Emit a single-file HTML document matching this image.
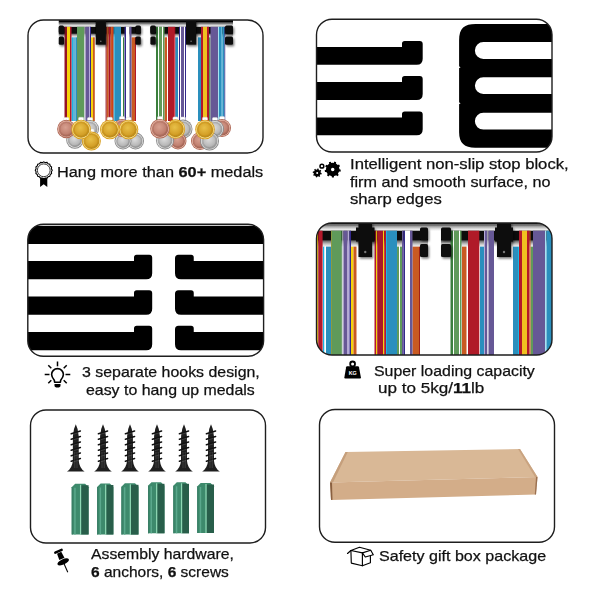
<!DOCTYPE html>
<html><head><meta charset="utf-8">
<style>
html,body{margin:0;padding:0;background:#fff;}
body{width:600px;height:600px;position:relative;overflow:hidden;font-family:"Liberation Sans",sans-serif;color:#111;}
.t{position:absolute;white-space:nowrap;transform-origin:0 0;-webkit-text-stroke:0.25px #111;}
b{font-weight:bold;}
</style></head><body>
<svg width="600" height="600" viewBox="0 0 600 600" style="position:absolute;left:0;top:0"><defs><clipPath id="cp1"><rect x="28" y="20" width="235" height="133" rx="15.5" ry="15.5"/></clipPath><clipPath id="cp2"><rect x="316.5" y="19.3" width="235.5" height="132.7" rx="15.5" ry="15.5"/></clipPath><clipPath id="cp3"><rect x="27.8" y="224.3" width="235.8" height="131.89999999999998" rx="15.5" ry="15.5"/></clipPath><clipPath id="cp4"><rect x="316.5" y="223" width="235.5" height="132" rx="15.5" ry="15.5"/></clipPath><clipPath id="cp5"><rect x="30.5" y="410" width="235.0" height="133" rx="15.5" ry="15.5"/></clipPath><clipPath id="cp6"><rect x="319.5" y="409.5" width="235.0" height="132.70000000000005" rx="15.5" ry="15.5"/></clipPath><linearGradient id="gHi" x1="0" y1="0" x2="0" y2="1"><stop offset="0" stop-color="#444"/><stop offset="0.35" stop-color="#a4a4a4"/><stop offset="0.75" stop-color="#e6e6e6"/><stop offset="1" stop-color="#f6f6f6"/></linearGradient><linearGradient id="gLo" x1="0" y1="0" x2="0" y2="1"><stop offset="0" stop-color="#666"/><stop offset="0.55" stop-color="#c4c4c4"/><stop offset="1" stop-color="#f4f4f4"/></linearGradient><filter id="ds" x="-50%" y="-50%" width="200%" height="200%"><feDropShadow dx="1.2" dy="1.6" stdDeviation="1.1" flood-color="#000" flood-opacity="0.55"/></filter><linearGradient id="gSh" x1="0" y1="0" x2="0" y2="1"><stop offset="0" stop-color="#777"/><stop offset="1" stop-color="#fff" stop-opacity="0"/></linearGradient><radialGradient id="mgold" cx="0.45" cy="0.4" r="0.6"><stop offset="0" stop-color="#e8c048"/><stop offset="0.7" stop-color="#d4a028"/><stop offset="1" stop-color="#b88818"/></radialGradient><radialGradient id="msilver" cx="0.45" cy="0.4" r="0.6"><stop offset="0" stop-color="#dcdcdc"/><stop offset="0.7" stop-color="#b8b8b8"/><stop offset="1" stop-color="#959595"/></radialGradient><radialGradient id="mbronze" cx="0.45" cy="0.4" r="0.6"><stop offset="0" stop-color="#d8a090"/><stop offset="0.7" stop-color="#c08070"/><stop offset="1" stop-color="#a06050"/></radialGradient></defs><g clip-path="url(#cp1)"><rect x="58.75" y="20.10" width="174.25" height="2.60" fill="#000" /><rect x="58.75" y="22.70" width="174.25" height="4.10" fill="url(#gHi)" /><rect x="58.75" y="26.80" width="82.05" height="7.10" fill="#0c0c0c" /><rect x="58.75" y="33.90" width="82.05" height="3.40" fill="url(#gLo)" /><rect x="150.40" y="26.80" width="82.60" height="7.10" fill="#0c0c0c" /><rect x="150.40" y="33.90" width="82.60" height="3.40" fill="url(#gLo)" /><rect x="71.50" y="37.30" width="1.50" height="83.70" fill="#1cb4e4" /><rect x="73.00" y="37.30" width="2.50" height="83.70" fill="#5eb4d6" /><rect x="75.50" y="37.30" width="1.50" height="83.70" fill="#2a8fbd" /><rect x="91.00" y="37.30" width="2.00" height="83.70" fill="#f6d20a" /><rect x="93.00" y="37.30" width="1.80" height="83.70" fill="#c95a22" /><rect x="123.00" y="37.30" width="1.00" height="83.70" fill="#3a7f3c" /><rect x="131.50" y="37.30" width="3.50" height="83.70" fill="#c95a22" /><rect x="135.00" y="37.30" width="1.00" height="83.70" fill="#b3182a" /><rect x="164.50" y="37.30" width="2.50" height="83.70" fill="#c95a22" /><rect x="175.20" y="37.30" width="2.80" height="83.70" fill="#2a8fbd" /><rect x="198.00" y="37.30" width="3.00" height="83.70" fill="#2a8fbd" /><rect x="209.00" y="37.30" width="1.50" height="83.70" fill="#5f9a5a" /><rect x="64.50" y="26.80" width="2.50" height="94.20" fill="#951224" /><rect x="67.00" y="26.80" width="3.00" height="94.20" fill="#f6d20a" /><rect x="70.00" y="26.80" width="1.50" height="94.20" fill="#b3182a" /><rect x="77.00" y="26.80" width="7.50" height="94.20" fill="#5f9a5a" /><rect x="84.50" y="26.80" width="1.00" height="94.20" fill="#ddd6f0" /><rect x="85.50" y="26.80" width="3.50" height="94.20" fill="#665896" /><rect x="89.00" y="26.80" width="1.00" height="94.20" fill="#b4aad8" /><rect x="90.00" y="26.80" width="1.00" height="94.20" fill="#33288a" /><rect x="105.60" y="26.80" width="1.10" height="94.20" fill="#951224" /><rect x="106.70" y="26.80" width="2.00" height="94.20" fill="#c95a22" /><rect x="108.70" y="26.80" width="2.00" height="94.20" fill="#a8102a" /><rect x="110.70" y="26.80" width="1.30" height="94.20" fill="#c95a22" /><rect x="112.00" y="26.80" width="1.70" height="94.20" fill="#d04018" /><rect x="113.70" y="26.80" width="1.00" height="94.20" fill="#1cb4e4" /><rect x="114.70" y="26.80" width="6.30" height="94.20" fill="#2a8fbd" /><rect x="124.50" y="26.80" width="1.50" height="94.20" fill="#33288a" /><rect x="126.00" y="26.80" width="3.50" height="94.20" fill="#ffffff" /><rect x="129.50" y="26.80" width="2.00" height="94.20" fill="#665896" /><rect x="156.00" y="26.80" width="2.00" height="94.20" fill="#3a7f3c" /><rect x="158.00" y="26.80" width="1.00" height="94.20" fill="#ffffff" /><rect x="159.00" y="26.80" width="3.00" height="94.20" fill="#5f9a5a" /><rect x="162.00" y="26.80" width="1.00" height="94.20" fill="#ffffff" /><rect x="163.00" y="26.80" width="1.50" height="94.20" fill="#5f9a5a" /><rect x="168.00" y="26.80" width="6.50" height="94.20" fill="#b01a28" /><rect x="174.50" y="26.80" width="0.70" height="94.20" fill="#e01020" /><rect x="179.00" y="26.80" width="1.00" height="94.20" fill="#33288a" /><rect x="180.00" y="26.80" width="1.00" height="94.20" fill="#ffffff" /><rect x="181.00" y="26.80" width="3.00" height="94.20" fill="#665896" /><rect x="184.00" y="26.80" width="1.00" height="94.20" fill="#ffffff" /><rect x="185.00" y="26.80" width="1.00" height="94.20" fill="#33288a" /><rect x="201.00" y="26.80" width="2.00" height="94.20" fill="#b3182a" /><rect x="203.00" y="26.80" width="4.00" height="94.20" fill="#f0c020" /><rect x="207.00" y="26.80" width="2.00" height="94.20" fill="#b3182a" /><rect x="210.50" y="26.80" width="7.50" height="94.20" fill="#665896" /><rect x="218.00" y="26.80" width="1.00" height="94.20" fill="#a8e2f2" /><rect x="219.00" y="26.80" width="2.00" height="94.20" fill="#2a8fbd" /><rect x="221.00" y="26.80" width="1.50" height="94.20" fill="#5eb4d6" /><rect x="222.50" y="26.80" width="2.00" height="94.20" fill="#2a8fbd" /><rect x="224.50" y="26.80" width="0.70" height="94.20" fill="#33288a" /><g filter="url(#ds)"><rect x="58.75" y="25.50" width="5.25" height="8.00" rx="1.5" fill="#0a0a0a"/><rect x="58.75" y="36.50" width="5.25" height="8.20" rx="1.5" fill="#0a0a0a"/></g><g filter="url(#ds)"><rect x="135.40" y="25.50" width="5.40" height="8.00" rx="1.5" fill="#0a0a0a"/><rect x="135.40" y="36.50" width="5.40" height="8.20" rx="1.5" fill="#0a0a0a"/></g><g filter="url(#ds)"><rect x="150.40" y="25.50" width="5.40" height="8.00" rx="1.5" fill="#0a0a0a"/><rect x="150.40" y="36.50" width="5.40" height="8.20" rx="1.5" fill="#0a0a0a"/></g><g filter="url(#ds)"><rect x="225.00" y="25.50" width="8.00" height="8.00" rx="1.5" fill="#0a0a0a"/><rect x="225.00" y="36.50" width="8.00" height="8.20" rx="1.5" fill="#0a0a0a"/></g><g filter="url(#ds)"><rect x="95.70" y="20.10" width="10.20" height="24.60" fill="#0d0d0d" /><rect x="95.70" y="25.00" width="10.20" height="9.00" fill="#0d0d0d" /></g><circle cx="100.80" cy="41.20" r="0.8" fill="#777"/><g filter="url(#ds)"><rect x="186.00" y="20.10" width="10.20" height="24.60" fill="#0d0d0d" /><rect x="186.00" y="25.00" width="10.20" height="9.00" fill="#0d0d0d" /></g><circle cx="191.10" cy="41.20" r="0.8" fill="#777"/><rect x="72.30" y="128.90" width="5.2" height="3.2" rx="1.2" fill="#fff" stroke="#d8d8d8" stroke-width="0.5"/><circle cx="74.9" cy="140" r="8.7" fill="#8a8a8a"/><circle cx="74.9" cy="140" r="7.80" fill="#f0f0f0"/><circle cx="74.9" cy="140" r="7.20" fill="url(#msilver)"/><circle cx="74.9" cy="140" r="6.09" fill="none" stroke="#8e8e8e" stroke-width="0.7" opacity="0.7"/><rect x="87.40" y="117.60" width="5.2" height="3.2" rx="1.2" fill="#fff" stroke="#d8d8d8" stroke-width="0.5"/><circle cx="90" cy="129" r="9" fill="#8a8a8a"/><circle cx="90" cy="129" r="8.10" fill="#f0f0f0"/><circle cx="90" cy="129" r="7.50" fill="url(#msilver)"/><circle cx="90" cy="129" r="6.30" fill="none" stroke="#8e8e8e" stroke-width="0.7" opacity="0.7"/><rect x="88.80" y="129.10" width="5.2" height="3.2" rx="1.2" fill="#fff" stroke="#d8d8d8" stroke-width="0.5"/><circle cx="91.4" cy="141" r="9.5" fill="#d9a020"/><circle cx="91.4" cy="141" r="8.60" fill="#fbe7a0"/><circle cx="91.4" cy="141" r="8.00" fill="url(#mgold)"/><circle cx="91.4" cy="141" r="6.65" fill="none" stroke="#c08a16" stroke-width="0.7" opacity="0.7"/><rect x="63.70" y="117.40" width="5.2" height="3.2" rx="1.2" fill="#fff" stroke="#d8d8d8" stroke-width="0.5"/><circle cx="66.3" cy="129" r="9.2" fill="#b06a58"/><circle cx="66.3" cy="129" r="8.30" fill="#f2cbbd"/><circle cx="66.3" cy="129" r="7.70" fill="url(#mbronze)"/><circle cx="66.3" cy="129" r="6.44" fill="none" stroke="#a8685a" stroke-width="0.7" opacity="0.7"/><rect x="78.50" y="117.30" width="5.2" height="3.2" rx="1.2" fill="#fff" stroke="#d8d8d8" stroke-width="0.5"/><circle cx="81.1" cy="129.5" r="9.8" fill="#d9a020"/><circle cx="81.1" cy="129.5" r="8.90" fill="#fbe7a0"/><circle cx="81.1" cy="129.5" r="8.30" fill="url(#mgold)"/><circle cx="81.1" cy="129.5" r="6.86" fill="none" stroke="#c08a16" stroke-width="0.7" opacity="0.7"/><rect x="132.90" y="130.10" width="5.2" height="3.2" rx="1.2" fill="#fff" stroke="#d8d8d8" stroke-width="0.5"/><circle cx="135.5" cy="141" r="8.5" fill="#8a8a8a"/><circle cx="135.5" cy="141" r="7.60" fill="#f0f0f0"/><circle cx="135.5" cy="141" r="7.00" fill="url(#msilver)"/><circle cx="135.5" cy="141" r="5.95" fill="none" stroke="#8e8e8e" stroke-width="0.7" opacity="0.7"/><rect x="120.40" y="130.10" width="5.2" height="3.2" rx="1.2" fill="#fff" stroke="#d8d8d8" stroke-width="0.5"/><circle cx="123" cy="141" r="8.5" fill="#8a8a8a"/><circle cx="123" cy="141" r="7.60" fill="#f0f0f0"/><circle cx="123" cy="141" r="7.00" fill="url(#msilver)"/><circle cx="123" cy="141" r="5.95" fill="none" stroke="#8e8e8e" stroke-width="0.7" opacity="0.7"/><rect x="119.40" y="116.60" width="5.2" height="3.2" rx="1.2" fill="#fff" stroke="#d8d8d8" stroke-width="0.5"/><circle cx="122" cy="128" r="9" fill="#b06a58"/><circle cx="122" cy="128" r="8.10" fill="#f2cbbd"/><circle cx="122" cy="128" r="7.50" fill="url(#mbronze)"/><circle cx="122" cy="128" r="6.30" fill="none" stroke="#a8685a" stroke-width="0.7" opacity="0.7"/><rect x="107.20" y="117.30" width="5.2" height="3.2" rx="1.2" fill="#fff" stroke="#d8d8d8" stroke-width="0.5"/><circle cx="109.8" cy="129.5" r="9.8" fill="#d9a020"/><circle cx="109.8" cy="129.5" r="8.90" fill="#fbe7a0"/><circle cx="109.8" cy="129.5" r="8.30" fill="url(#mgold)"/><circle cx="109.8" cy="129.5" r="6.86" fill="none" stroke="#c08a16" stroke-width="0.7" opacity="0.7"/><rect x="125.90" y="117.30" width="5.2" height="3.2" rx="1.2" fill="#fff" stroke="#d8d8d8" stroke-width="0.5"/><circle cx="128.5" cy="129.5" r="9.8" fill="#d9a020"/><circle cx="128.5" cy="129.5" r="8.90" fill="#fbe7a0"/><circle cx="128.5" cy="129.5" r="8.30" fill="url(#mgold)"/><circle cx="128.5" cy="129.5" r="6.86" fill="none" stroke="#c08a16" stroke-width="0.7" opacity="0.7"/><rect x="180.40" y="117.10" width="5.2" height="3.2" rx="1.2" fill="#fff" stroke="#d8d8d8" stroke-width="0.5"/><circle cx="183" cy="129" r="9.5" fill="#8a8a8a"/><circle cx="183" cy="129" r="8.60" fill="#f0f0f0"/><circle cx="183" cy="129" r="8.00" fill="url(#msilver)"/><circle cx="183" cy="129" r="6.65" fill="none" stroke="#8e8e8e" stroke-width="0.7" opacity="0.7"/><rect x="175.40" y="130.10" width="5.2" height="3.2" rx="1.2" fill="#fff" stroke="#d8d8d8" stroke-width="0.5"/><circle cx="178" cy="141" r="8.5" fill="#b06a58"/><circle cx="178" cy="141" r="7.60" fill="#f2cbbd"/><circle cx="178" cy="141" r="7.00" fill="url(#mbronze)"/><circle cx="178" cy="141" r="5.95" fill="none" stroke="#a8685a" stroke-width="0.7" opacity="0.7"/><rect x="162.40" y="129.10" width="5.2" height="3.2" rx="1.2" fill="#fff" stroke="#d8d8d8" stroke-width="0.5"/><circle cx="165" cy="140.5" r="9" fill="#8a8a8a"/><circle cx="165" cy="140.5" r="8.10" fill="#f0f0f0"/><circle cx="165" cy="140.5" r="7.50" fill="url(#msilver)"/><circle cx="165" cy="140.5" r="6.30" fill="none" stroke="#8e8e8e" stroke-width="0.7" opacity="0.7"/><rect x="172.90" y="116.90" width="5.2" height="3.2" rx="1.2" fill="#fff" stroke="#d8d8d8" stroke-width="0.5"/><circle cx="175.5" cy="129" r="9.7" fill="#d9a020"/><circle cx="175.5" cy="129" r="8.80" fill="#fbe7a0"/><circle cx="175.5" cy="129" r="8.20" fill="url(#mgold)"/><circle cx="175.5" cy="129" r="6.79" fill="none" stroke="#c08a16" stroke-width="0.7" opacity="0.7"/><rect x="157.40" y="116.50" width="5.2" height="3.2" rx="1.2" fill="#fff" stroke="#d8d8d8" stroke-width="0.5"/><circle cx="160" cy="128.7" r="9.8" fill="#b06a58"/><circle cx="160" cy="128.7" r="8.90" fill="#f2cbbd"/><circle cx="160" cy="128.7" r="8.30" fill="url(#mbronze)"/><circle cx="160" cy="128.7" r="6.86" fill="none" stroke="#a8685a" stroke-width="0.7" opacity="0.7"/><rect x="219.40" y="116.60" width="5.2" height="3.2" rx="1.2" fill="#fff" stroke="#d8d8d8" stroke-width="0.5"/><circle cx="222" cy="128" r="9" fill="#b06a58"/><circle cx="222" cy="128" r="8.10" fill="#f2cbbd"/><circle cx="222" cy="128" r="7.50" fill="url(#mbronze)"/><circle cx="222" cy="128" r="6.30" fill="none" stroke="#a8685a" stroke-width="0.7" opacity="0.7"/><rect x="212.40" y="117.60" width="5.2" height="3.2" rx="1.2" fill="#fff" stroke="#d8d8d8" stroke-width="0.5"/><circle cx="215" cy="129" r="9" fill="#8a8a8a"/><circle cx="215" cy="129" r="8.10" fill="#f0f0f0"/><circle cx="215" cy="129" r="7.50" fill="url(#msilver)"/><circle cx="215" cy="129" r="6.30" fill="none" stroke="#8e8e8e" stroke-width="0.7" opacity="0.7"/><rect x="197.40" y="129.60" width="5.2" height="3.2" rx="1.2" fill="#fff" stroke="#d8d8d8" stroke-width="0.5"/><circle cx="200" cy="141" r="9" fill="#b06a58"/><circle cx="200" cy="141" r="8.10" fill="#f2cbbd"/><circle cx="200" cy="141" r="7.50" fill="url(#mbronze)"/><circle cx="200" cy="141" r="6.30" fill="none" stroke="#a8685a" stroke-width="0.7" opacity="0.7"/><rect x="206.90" y="129.10" width="5.2" height="3.2" rx="1.2" fill="#fff" stroke="#d8d8d8" stroke-width="0.5"/><circle cx="209.5" cy="141" r="9.5" fill="#8a8a8a"/><circle cx="209.5" cy="141" r="8.60" fill="#f0f0f0"/><circle cx="209.5" cy="141" r="8.00" fill="url(#msilver)"/><circle cx="209.5" cy="141" r="6.65" fill="none" stroke="#8e8e8e" stroke-width="0.7" opacity="0.7"/><rect x="202.40" y="117.30" width="5.2" height="3.2" rx="1.2" fill="#fff" stroke="#d8d8d8" stroke-width="0.5"/><circle cx="205" cy="129.5" r="9.8" fill="#d9a020"/><circle cx="205" cy="129.5" r="8.90" fill="#fbe7a0"/><circle cx="205" cy="129.5" r="8.30" fill="url(#mgold)"/><circle cx="205" cy="129.5" r="6.86" fill="none" stroke="#c08a16" stroke-width="0.7" opacity="0.7"/></g><g clip-path="url(#cp2)"><path d="M310,64.80 L416.70,64.80 Q422.7,64.80 422.7,58.80 L422.7,43.90 Q422.7,40.90 419.70,40.90 L404.70,40.90 Q402.0,40.90 402.0,43.60 L402.0,46.90 L310,46.90 Z" fill="#000"/><path d="M310,99.90 L416.70,99.90 Q422.7,99.90 422.7,93.90 L422.7,79.00 Q422.7,76.00 419.70,76.00 L404.70,76.00 Q402.0,76.00 402.0,78.70 L402.0,82.00 L310,82.00 Z" fill="#000"/><path d="M310,135.30 L416.70,135.30 Q422.7,135.30 422.7,129.30 L422.7,114.40 Q422.7,111.40 419.70,111.40 L404.70,111.40 Q402.0,111.40 402.0,114.10 L402.0,117.40 L310,117.40 Z" fill="#000"/><path fill="#000" fill-rule="evenodd" d="M459.1,40.6 C459.1,28 464.5,24.1 475.6,24.1 L560,24.1 L560,147.7 L475.1,147.7 C464.5,147.7 459.1,143 459.1,132.2 Z M560,41.9 L483.40,41.9 A8.50,8.50 0 0 0 483.40,58.9 L560,58.9 Z M560,77.2 L483.30,77.2 A8.40,8.40 0 0 0 483.30,94.0 L560,94.0 Z M560,112.7 L483.35,112.7 A8.45,8.45 0 0 0 483.35,129.6 L560,129.6 Z "/><path d="M457,65.3 L460.6,67.3 L457,69.3 Z" fill="#fff"/><path d="M457,101.3 L460.6,103.3 L457,105.3 Z" fill="#fff"/></g><g clip-path="url(#cp3)"><rect x="20.00" y="225.80" width="250.00" height="18.20" fill="#000" /><path d="M20,279.20 L146.20,279.20 Q152.2,279.20 152.2,273.20 L152.2,257.80 Q152.2,254.80 149.20,254.80 L136.70,254.80 Q134.0,254.80 134.0,257.50 L134.0,261.00 L20,261.00 Z" fill="#000"/><path d="M270,279.20 L181.00,279.20 Q175.0,279.20 175.0,273.20 L175.0,258.30 Q175.0,254.80 178.50,254.80 L191.05,254.80 Q193.75,254.80 193.75,257.50 L193.75,261.00 L270,261.00 Z" fill="#000"/><path d="M20,314.70 L146.20,314.70 Q152.2,314.70 152.2,308.70 L152.2,293.30 Q152.2,290.30 149.20,290.30 L136.70,290.30 Q134.0,290.30 134.0,293.00 L134.0,296.50 L20,296.50 Z" fill="#000"/><path d="M270,314.70 L181.00,314.70 Q175.0,314.70 175.0,308.70 L175.0,293.80 Q175.0,290.30 178.50,290.30 L191.05,290.30 Q193.75,290.30 193.75,293.00 L193.75,296.50 L270,296.50 Z" fill="#000"/><path d="M20,350.20 L146.20,350.20 Q152.2,350.20 152.2,344.20 L152.2,328.80 Q152.2,325.80 149.20,325.80 L136.70,325.80 Q134.0,325.80 134.0,328.50 L134.0,332.00 L20,332.00 Z" fill="#000"/><path d="M270,350.20 L181.00,350.20 Q175.0,350.20 175.0,344.20 L175.0,329.30 Q175.0,325.80 178.50,325.80 L191.05,325.80 Q193.75,325.80 193.75,328.50 L193.75,332.00 L270,332.00 Z" fill="#000"/></g><g clip-path="url(#cp4)"><rect x="316.00" y="222.50" width="236.00" height="1.80" fill="#000" /><rect x="316.00" y="224.30" width="236.00" height="6.40" fill="url(#gHi)" /><rect x="316.00" y="230.70" width="112.00" height="10.10" fill="#0c0c0c" /><rect x="316.00" y="240.80" width="112.00" height="5.80" fill="url(#gLo)" /><rect x="441.00" y="230.70" width="111.00" height="10.10" fill="#0c0c0c" /><rect x="441.00" y="240.80" width="111.00" height="5.80" fill="url(#gLo)" /><rect x="323.00" y="246.60" width="1.50" height="113.40" fill="#1cb4e4" /><rect x="324.50" y="246.60" width="1.50" height="113.40" fill="#ffffff" /><rect x="326.00" y="246.60" width="5.20" height="113.40" fill="#2a8fbd" /><rect x="351.00" y="246.60" width="2.50" height="113.40" fill="#f6d20a" /><rect x="353.50" y="246.60" width="3.00" height="113.40" fill="#c95a22" /><rect x="397.00" y="246.60" width="2.00" height="113.40" fill="#5f9a5a" /><rect x="399.00" y="246.60" width="1.00" height="113.40" fill="#ffffff" /><rect x="400.00" y="246.60" width="2.00" height="113.40" fill="#5f9a5a" /><rect x="412.50" y="246.60" width="6.50" height="113.40" fill="#c95a22" /><rect x="419.00" y="246.60" width="1.00" height="113.40" fill="#a02018" /><rect x="462.00" y="246.60" width="4.50" height="113.40" fill="#c95a22" /><rect x="480.00" y="246.60" width="4.00" height="113.40" fill="#2a8fbd" /><rect x="513.00" y="246.60" width="5.00" height="113.40" fill="#2a8fbd" /><rect x="518.00" y="246.60" width="1.00" height="113.40" fill="#1cb4e4" /><rect x="530.50" y="246.60" width="2.50" height="113.40" fill="#5f9a5a" /><rect x="316.00" y="230.70" width="1.00" height="129.30" fill="#33288a" /><rect x="316.80" y="230.70" width="1.10" height="129.30" fill="#f6d20a" /><rect x="317.90" y="230.70" width="0.70" height="129.30" fill="#951224" /><rect x="318.60" y="230.70" width="4.00" height="129.30" fill="#b3182a" /><rect x="331.00" y="230.70" width="1.00" height="129.30" fill="#8a9a40" /><rect x="332.00" y="230.70" width="9.50" height="129.30" fill="#5f9a5a" /><rect x="341.50" y="230.70" width="0.90" height="129.30" fill="#3a7f3c" /><rect x="342.40" y="230.70" width="1.10" height="129.30" fill="#ddd6f0" /><rect x="343.50" y="230.70" width="4.00" height="129.30" fill="#665896" /><rect x="347.50" y="230.70" width="2.00" height="129.30" fill="#b4aad8" /><rect x="349.50" y="230.70" width="1.50" height="129.30" fill="#33288a" /><rect x="374.50" y="230.70" width="1.50" height="129.30" fill="#b3182a" /><rect x="376.00" y="230.70" width="1.20" height="129.30" fill="#f6d20a" /><rect x="377.20" y="230.70" width="5.80" height="129.30" fill="#a81828" /><rect x="383.00" y="230.70" width="1.20" height="129.30" fill="#f6d20a" /><rect x="384.20" y="230.70" width="1.80" height="129.30" fill="#b3182a" /><rect x="386.00" y="230.70" width="1.00" height="129.30" fill="#1cb4e4" /><rect x="387.00" y="230.70" width="10.00" height="129.30" fill="#2a8fbd" /><rect x="402.00" y="230.70" width="1.50" height="129.30" fill="#665896" /><rect x="403.50" y="230.70" width="1.50" height="129.30" fill="#33288a" /><rect x="405.00" y="230.70" width="5.00" height="129.30" fill="#ffffff" /><rect x="410.00" y="230.70" width="2.50" height="129.30" fill="#665896" /><rect x="450.50" y="230.70" width="2.50" height="129.30" fill="#3a7f3c" /><rect x="453.00" y="230.70" width="1.00" height="129.30" fill="#ffffff" /><rect x="454.00" y="230.70" width="5.00" height="129.30" fill="#5f9a5a" /><rect x="459.00" y="230.70" width="1.00" height="129.30" fill="#ffffff" /><rect x="460.00" y="230.70" width="1.50" height="129.30" fill="#5f9a5a" /><rect x="468.00" y="230.70" width="11.30" height="129.30" fill="#b01a28" /><rect x="484.00" y="230.70" width="1.00" height="129.30" fill="#b4aad8" /><rect x="485.00" y="230.70" width="2.50" height="129.30" fill="#665896" /><rect x="487.50" y="230.70" width="1.00" height="129.30" fill="#ffffff" /><rect x="488.50" y="230.70" width="5.50" height="129.30" fill="#665896" /><rect x="519.00" y="230.70" width="3.00" height="129.30" fill="#b3182a" /><rect x="522.00" y="230.70" width="5.00" height="129.30" fill="#f0c020" /><rect x="527.00" y="230.70" width="2.50" height="129.30" fill="#b3182a" /><rect x="529.50" y="230.70" width="1.00" height="129.30" fill="#c95a22" /><rect x="533.00" y="230.70" width="12.00" height="129.30" fill="#665896" /><rect x="545.00" y="230.70" width="1.50" height="129.30" fill="#a8e2f2" /><rect x="546.50" y="230.70" width="5.50" height="129.30" fill="#2a8fbd" /><g filter="url(#ds)"><rect x="420.00" y="227.50" width="8.00" height="12.50" rx="1.5" fill="#0a0a0a"/><rect x="420.00" y="244.00" width="8.00" height="13.00" rx="1.5" fill="#0a0a0a"/></g><g filter="url(#ds)"><rect x="441.00" y="227.50" width="10.00" height="12.50" rx="1.5" fill="#0a0a0a"/><rect x="441.00" y="244.00" width="10.00" height="13.00" rx="1.5" fill="#0a0a0a"/></g><g filter="url(#ds)"><rect x="358.50" y="222.50" width="13.50" height="34.50" fill="#0d0d0d" /><rect x="356.00" y="227.50" width="18.50" height="14.00" fill="#0d0d0d" /></g><circle cx="365.25" cy="252.00" r="1.2" fill="#777"/><g filter="url(#ds)"><rect x="497.00" y="222.50" width="14.00" height="34.50" fill="#0d0d0d" /><rect x="495.00" y="227.50" width="18.00" height="14.00" fill="#0d0d0d" /></g><circle cx="504.00" cy="252.00" r="1.2" fill="#777"/></g><g clip-path="url(#cp5)"><path d="M75.8,424.3 L77.6,429 L78.7,436 L78.8,461 Q79.39999999999999,468 84.6,471.6 L67.0,471.6 Q72.2,468 72.8,461 L72.89999999999999,436 L74.0,429 Z" fill="#1e1e1e"/><line x1="80.40" y1="431.00" x2="71.20" y2="433.80" stroke="#111" stroke-width="1.5" stroke-linecap="round"/><line x1="78.00" y1="432.90" x2="73.60" y2="434.20" stroke="#6a6a6a" stroke-width="0.6" opacity="0.7"/><line x1="80.40" y1="436.50" x2="71.20" y2="439.30" stroke="#111" stroke-width="1.5" stroke-linecap="round"/><line x1="78.00" y1="438.40" x2="73.60" y2="439.70" stroke="#6a6a6a" stroke-width="0.6" opacity="0.7"/><line x1="80.40" y1="442.00" x2="71.20" y2="444.80" stroke="#111" stroke-width="1.5" stroke-linecap="round"/><line x1="78.00" y1="443.90" x2="73.60" y2="445.20" stroke="#6a6a6a" stroke-width="0.6" opacity="0.7"/><line x1="80.40" y1="447.50" x2="71.20" y2="450.30" stroke="#111" stroke-width="1.5" stroke-linecap="round"/><line x1="78.00" y1="449.40" x2="73.60" y2="450.70" stroke="#6a6a6a" stroke-width="0.6" opacity="0.7"/><line x1="80.40" y1="453.00" x2="71.20" y2="455.80" stroke="#111" stroke-width="1.5" stroke-linecap="round"/><line x1="78.00" y1="454.90" x2="73.60" y2="456.20" stroke="#6a6a6a" stroke-width="0.6" opacity="0.7"/><line x1="80.40" y1="458.50" x2="71.20" y2="461.30" stroke="#111" stroke-width="1.5" stroke-linecap="round"/><line x1="78.00" y1="460.40" x2="73.60" y2="461.70" stroke="#6a6a6a" stroke-width="0.6" opacity="0.7"/><line x1="74.80" y1="452" x2="74.80" y2="468" stroke="#777" stroke-width="0.6" opacity="0.6"/><line x1="77.00" y1="452" x2="77.00" y2="468" stroke="#777" stroke-width="0.6" opacity="0.6"/><path d="M103,424.3 L104.8,429 L105.9,436 L106.0,461 Q106.6,468 111.8,471.6 L94.2,471.6 Q99.4,468 100.0,461 L100.1,436 L101.2,429 Z" fill="#1e1e1e"/><line x1="107.60" y1="431.00" x2="98.40" y2="433.80" stroke="#111" stroke-width="1.5" stroke-linecap="round"/><line x1="105.20" y1="432.90" x2="100.80" y2="434.20" stroke="#6a6a6a" stroke-width="0.6" opacity="0.7"/><line x1="107.60" y1="436.50" x2="98.40" y2="439.30" stroke="#111" stroke-width="1.5" stroke-linecap="round"/><line x1="105.20" y1="438.40" x2="100.80" y2="439.70" stroke="#6a6a6a" stroke-width="0.6" opacity="0.7"/><line x1="107.60" y1="442.00" x2="98.40" y2="444.80" stroke="#111" stroke-width="1.5" stroke-linecap="round"/><line x1="105.20" y1="443.90" x2="100.80" y2="445.20" stroke="#6a6a6a" stroke-width="0.6" opacity="0.7"/><line x1="107.60" y1="447.50" x2="98.40" y2="450.30" stroke="#111" stroke-width="1.5" stroke-linecap="round"/><line x1="105.20" y1="449.40" x2="100.80" y2="450.70" stroke="#6a6a6a" stroke-width="0.6" opacity="0.7"/><line x1="107.60" y1="453.00" x2="98.40" y2="455.80" stroke="#111" stroke-width="1.5" stroke-linecap="round"/><line x1="105.20" y1="454.90" x2="100.80" y2="456.20" stroke="#6a6a6a" stroke-width="0.6" opacity="0.7"/><line x1="107.60" y1="458.50" x2="98.40" y2="461.30" stroke="#111" stroke-width="1.5" stroke-linecap="round"/><line x1="105.20" y1="460.40" x2="100.80" y2="461.70" stroke="#6a6a6a" stroke-width="0.6" opacity="0.7"/><line x1="102.00" y1="452" x2="102.00" y2="468" stroke="#777" stroke-width="0.6" opacity="0.6"/><line x1="104.20" y1="452" x2="104.20" y2="468" stroke="#777" stroke-width="0.6" opacity="0.6"/><path d="M130,424.3 L131.8,429 L132.9,436 L133.0,461 Q133.6,468 138.8,471.6 L121.2,471.6 Q126.4,468 127.0,461 L127.1,436 L128.2,429 Z" fill="#1e1e1e"/><line x1="134.60" y1="431.00" x2="125.40" y2="433.80" stroke="#111" stroke-width="1.5" stroke-linecap="round"/><line x1="132.20" y1="432.90" x2="127.80" y2="434.20" stroke="#6a6a6a" stroke-width="0.6" opacity="0.7"/><line x1="134.60" y1="436.50" x2="125.40" y2="439.30" stroke="#111" stroke-width="1.5" stroke-linecap="round"/><line x1="132.20" y1="438.40" x2="127.80" y2="439.70" stroke="#6a6a6a" stroke-width="0.6" opacity="0.7"/><line x1="134.60" y1="442.00" x2="125.40" y2="444.80" stroke="#111" stroke-width="1.5" stroke-linecap="round"/><line x1="132.20" y1="443.90" x2="127.80" y2="445.20" stroke="#6a6a6a" stroke-width="0.6" opacity="0.7"/><line x1="134.60" y1="447.50" x2="125.40" y2="450.30" stroke="#111" stroke-width="1.5" stroke-linecap="round"/><line x1="132.20" y1="449.40" x2="127.80" y2="450.70" stroke="#6a6a6a" stroke-width="0.6" opacity="0.7"/><line x1="134.60" y1="453.00" x2="125.40" y2="455.80" stroke="#111" stroke-width="1.5" stroke-linecap="round"/><line x1="132.20" y1="454.90" x2="127.80" y2="456.20" stroke="#6a6a6a" stroke-width="0.6" opacity="0.7"/><line x1="134.60" y1="458.50" x2="125.40" y2="461.30" stroke="#111" stroke-width="1.5" stroke-linecap="round"/><line x1="132.20" y1="460.40" x2="127.80" y2="461.70" stroke="#6a6a6a" stroke-width="0.6" opacity="0.7"/><line x1="129.00" y1="452" x2="129.00" y2="468" stroke="#777" stroke-width="0.6" opacity="0.6"/><line x1="131.20" y1="452" x2="131.20" y2="468" stroke="#777" stroke-width="0.6" opacity="0.6"/><path d="M157,424.3 L158.8,429 L159.9,436 L160.0,461 Q160.6,468 165.8,471.6 L148.2,471.6 Q153.4,468 154.0,461 L154.1,436 L155.2,429 Z" fill="#1e1e1e"/><line x1="161.60" y1="431.00" x2="152.40" y2="433.80" stroke="#111" stroke-width="1.5" stroke-linecap="round"/><line x1="159.20" y1="432.90" x2="154.80" y2="434.20" stroke="#6a6a6a" stroke-width="0.6" opacity="0.7"/><line x1="161.60" y1="436.50" x2="152.40" y2="439.30" stroke="#111" stroke-width="1.5" stroke-linecap="round"/><line x1="159.20" y1="438.40" x2="154.80" y2="439.70" stroke="#6a6a6a" stroke-width="0.6" opacity="0.7"/><line x1="161.60" y1="442.00" x2="152.40" y2="444.80" stroke="#111" stroke-width="1.5" stroke-linecap="round"/><line x1="159.20" y1="443.90" x2="154.80" y2="445.20" stroke="#6a6a6a" stroke-width="0.6" opacity="0.7"/><line x1="161.60" y1="447.50" x2="152.40" y2="450.30" stroke="#111" stroke-width="1.5" stroke-linecap="round"/><line x1="159.20" y1="449.40" x2="154.80" y2="450.70" stroke="#6a6a6a" stroke-width="0.6" opacity="0.7"/><line x1="161.60" y1="453.00" x2="152.40" y2="455.80" stroke="#111" stroke-width="1.5" stroke-linecap="round"/><line x1="159.20" y1="454.90" x2="154.80" y2="456.20" stroke="#6a6a6a" stroke-width="0.6" opacity="0.7"/><line x1="161.60" y1="458.50" x2="152.40" y2="461.30" stroke="#111" stroke-width="1.5" stroke-linecap="round"/><line x1="159.20" y1="460.40" x2="154.80" y2="461.70" stroke="#6a6a6a" stroke-width="0.6" opacity="0.7"/><line x1="156.00" y1="452" x2="156.00" y2="468" stroke="#777" stroke-width="0.6" opacity="0.6"/><line x1="158.20" y1="452" x2="158.20" y2="468" stroke="#777" stroke-width="0.6" opacity="0.6"/><path d="M184,424.3 L185.8,429 L186.9,436 L187.0,461 Q187.6,468 192.8,471.6 L175.2,471.6 Q180.4,468 181.0,461 L181.1,436 L182.2,429 Z" fill="#1e1e1e"/><line x1="188.60" y1="431.00" x2="179.40" y2="433.80" stroke="#111" stroke-width="1.5" stroke-linecap="round"/><line x1="186.20" y1="432.90" x2="181.80" y2="434.20" stroke="#6a6a6a" stroke-width="0.6" opacity="0.7"/><line x1="188.60" y1="436.50" x2="179.40" y2="439.30" stroke="#111" stroke-width="1.5" stroke-linecap="round"/><line x1="186.20" y1="438.40" x2="181.80" y2="439.70" stroke="#6a6a6a" stroke-width="0.6" opacity="0.7"/><line x1="188.60" y1="442.00" x2="179.40" y2="444.80" stroke="#111" stroke-width="1.5" stroke-linecap="round"/><line x1="186.20" y1="443.90" x2="181.80" y2="445.20" stroke="#6a6a6a" stroke-width="0.6" opacity="0.7"/><line x1="188.60" y1="447.50" x2="179.40" y2="450.30" stroke="#111" stroke-width="1.5" stroke-linecap="round"/><line x1="186.20" y1="449.40" x2="181.80" y2="450.70" stroke="#6a6a6a" stroke-width="0.6" opacity="0.7"/><line x1="188.60" y1="453.00" x2="179.40" y2="455.80" stroke="#111" stroke-width="1.5" stroke-linecap="round"/><line x1="186.20" y1="454.90" x2="181.80" y2="456.20" stroke="#6a6a6a" stroke-width="0.6" opacity="0.7"/><line x1="188.60" y1="458.50" x2="179.40" y2="461.30" stroke="#111" stroke-width="1.5" stroke-linecap="round"/><line x1="186.20" y1="460.40" x2="181.80" y2="461.70" stroke="#6a6a6a" stroke-width="0.6" opacity="0.7"/><line x1="183.00" y1="452" x2="183.00" y2="468" stroke="#777" stroke-width="0.6" opacity="0.6"/><line x1="185.20" y1="452" x2="185.20" y2="468" stroke="#777" stroke-width="0.6" opacity="0.6"/><path d="M211,424.3 L212.8,429 L213.9,436 L214.0,461 Q214.6,468 219.8,471.6 L202.2,471.6 Q207.4,468 208.0,461 L208.1,436 L209.2,429 Z" fill="#1e1e1e"/><line x1="215.60" y1="431.00" x2="206.40" y2="433.80" stroke="#111" stroke-width="1.5" stroke-linecap="round"/><line x1="213.20" y1="432.90" x2="208.80" y2="434.20" stroke="#6a6a6a" stroke-width="0.6" opacity="0.7"/><line x1="215.60" y1="436.50" x2="206.40" y2="439.30" stroke="#111" stroke-width="1.5" stroke-linecap="round"/><line x1="213.20" y1="438.40" x2="208.80" y2="439.70" stroke="#6a6a6a" stroke-width="0.6" opacity="0.7"/><line x1="215.60" y1="442.00" x2="206.40" y2="444.80" stroke="#111" stroke-width="1.5" stroke-linecap="round"/><line x1="213.20" y1="443.90" x2="208.80" y2="445.20" stroke="#6a6a6a" stroke-width="0.6" opacity="0.7"/><line x1="215.60" y1="447.50" x2="206.40" y2="450.30" stroke="#111" stroke-width="1.5" stroke-linecap="round"/><line x1="213.20" y1="449.40" x2="208.80" y2="450.70" stroke="#6a6a6a" stroke-width="0.6" opacity="0.7"/><line x1="215.60" y1="453.00" x2="206.40" y2="455.80" stroke="#111" stroke-width="1.5" stroke-linecap="round"/><line x1="213.20" y1="454.90" x2="208.80" y2="456.20" stroke="#6a6a6a" stroke-width="0.6" opacity="0.7"/><line x1="215.60" y1="458.50" x2="206.40" y2="461.30" stroke="#111" stroke-width="1.5" stroke-linecap="round"/><line x1="213.20" y1="460.40" x2="208.80" y2="461.70" stroke="#6a6a6a" stroke-width="0.6" opacity="0.7"/><line x1="210.00" y1="452" x2="210.00" y2="468" stroke="#777" stroke-width="0.6" opacity="0.6"/><line x1="212.20" y1="452" x2="212.20" y2="468" stroke="#777" stroke-width="0.6" opacity="0.6"/><path d="M71.7,487.25 L75.2,483.75 L85.1,483.75 L88.6,487.25 L88.6,534.5 L71.7,534.5 Z" fill="#3d8a6c"/><rect x="81.15" y="485.25" width="7.45" height="49.25" fill="#285e4a" /><rect x="79.95" y="484.75" width="1.20" height="49.75" fill="#8fd8b4" /><rect x="71.70" y="487.25" width="1.20" height="47.25" fill="#3a7e66" /><rect x="74.20" y="487.75" width="1.50" height="46.75" fill="#5aa88c" /><path d="M97.1,487.0 L100.6,483.5 L109.9,483.5 L113.4,487.0 L113.4,534.5 L97.1,534.5 Z" fill="#3d8a6c"/><rect x="106.25" y="485.00" width="7.15" height="49.50" fill="#285e4a" /><rect x="105.05" y="484.50" width="1.20" height="50.00" fill="#8fd8b4" /><rect x="97.10" y="487.00" width="1.20" height="47.50" fill="#3a7e66" /><rect x="99.60" y="487.50" width="1.50" height="47.00" fill="#5aa88c" /><path d="M121.4,486.8 L124.9,483.3 L135.0,483.3 L138.5,486.8 L138.5,534.6 L121.4,534.6 Z" fill="#3d8a6c"/><rect x="130.95" y="484.80" width="7.55" height="49.80" fill="#285e4a" /><rect x="129.75" y="484.30" width="1.20" height="50.30" fill="#8fd8b4" /><rect x="121.40" y="486.80" width="1.20" height="47.80" fill="#3a7e66" /><rect x="123.90" y="487.30" width="1.50" height="47.30" fill="#5aa88c" /><path d="M148,485.8 L151.5,482.3 L161.0,482.3 L164.5,485.8 L164.5,533.3 L148,533.3 Z" fill="#3d8a6c"/><rect x="157.25" y="483.80" width="7.25" height="49.50" fill="#285e4a" /><rect x="156.05" y="483.30" width="1.20" height="50.00" fill="#8fd8b4" /><rect x="148.00" y="485.80" width="1.20" height="47.50" fill="#3a7e66" /><rect x="150.50" y="486.30" width="1.50" height="47.00" fill="#5aa88c" /><path d="M173.3,485.8 L176.8,482.3 L185.5,482.3 L189,485.8 L189,533.3 L173.3,533.3 Z" fill="#3d8a6c"/><rect x="182.15" y="483.80" width="6.85" height="49.50" fill="#285e4a" /><rect x="180.95" y="483.30" width="1.20" height="50.00" fill="#8fd8b4" /><rect x="173.30" y="485.80" width="1.20" height="47.50" fill="#3a7e66" /><rect x="175.80" y="486.30" width="1.50" height="47.00" fill="#5aa88c" /><path d="M197.2,486.5 L200.7,483 L210.5,483 L214,486.5 L214,533 L197.2,533 Z" fill="#3d8a6c"/><rect x="206.60" y="484.50" width="7.40" height="48.50" fill="#285e4a" /><rect x="205.40" y="484.00" width="1.20" height="49.00" fill="#8fd8b4" /><rect x="197.20" y="486.50" width="1.20" height="46.50" fill="#3a7e66" /><rect x="199.70" y="487.00" width="1.50" height="46.00" fill="#5aa88c" /></g><g clip-path="url(#cp6)"><path d="M345.5,452 L520,449 L537.5,477 L330,482.5 Z" fill="#d9b896"/><path d="M330,482.5 L537.5,477 L536,494.5 L331,500 Z" fill="#d3ad89"/><path d="M345.5,452 L330,482.5 L333,482.4 L347.8,452 Z" fill="#c59f7c"/><path d="M520,449 L537.5,477 L535,477.1 L518,449 Z" fill="#c9a380"/><path d="M330,482.5 L331,500 L332.5,499.8 L332,482.4 Z" fill="#8a6040"/><path d="M537.5,477 L536,494.5 L534.8,494.5 L536,477 Z" fill="#9a7050"/></g><rect x="28" y="20" width="235" height="133" rx="15.5" fill="none" stroke="#1e1e1e" stroke-width="1.4"/><rect x="316.5" y="19.3" width="235.5" height="132.7" rx="15.5" fill="none" stroke="#1e1e1e" stroke-width="1.4"/><rect x="27.8" y="224.3" width="235.8" height="131.89999999999998" rx="15.5" fill="none" stroke="#1e1e1e" stroke-width="1.4"/><rect x="316.5" y="223" width="235.5" height="132" rx="15.5" fill="none" stroke="#1e1e1e" stroke-width="1.4"/><rect x="30.5" y="410" width="235.0" height="133" rx="15.5" fill="none" stroke="#1e1e1e" stroke-width="1.4"/><rect x="319.5" y="409.5" width="235.0" height="132.70000000000005" rx="15.5" fill="none" stroke="#1e1e1e" stroke-width="1.4"/><path d="M40.1,178 L47.3,178 L47.3,187 L43.7,184.3 L40.1,187 Z" fill="#000"/><polygon points="52.25,170.30 51.40,171.82 51.60,173.55 50.24,174.63 49.76,176.31 48.08,176.79 47.00,178.15 45.27,177.95 43.75,178.80 42.23,177.95 40.50,178.15 39.42,176.79 37.74,176.31 37.26,174.63 35.90,173.55 36.10,171.82 35.25,170.30 36.10,168.78 35.90,167.05 37.26,165.97 37.74,164.29 39.42,163.81 40.50,162.45 42.23,162.65 43.75,161.80 45.27,162.65 47.00,162.45 48.08,163.81 49.76,164.29 50.24,165.97 51.60,167.05 51.40,168.78" fill="#fff" stroke="#000" stroke-width="1.1"/><circle cx="43.75" cy="170.3" r="6.4" fill="#fff" stroke="#222" stroke-width="0.9"/><path d="M339.40,169.37 L340.80,169.75 L340.51,171.65 L339.06,171.61 A6.7,6.7 0 0 1 337.92,173.70 L337.92,173.70 L338.74,174.90 L337.30,176.17 L336.22,175.20 A6.7,6.7 0 0 1 334.00,176.07 L334.00,176.07 L333.86,177.52 L331.94,177.56 L331.73,176.13 A6.7,6.7 0 0 1 329.47,175.37 L329.47,175.37 L328.43,176.39 L326.93,175.19 L327.69,173.95 A6.7,6.7 0 0 1 326.45,171.92 L326.45,171.92 L325.01,172.03 L324.63,170.15 L326.00,169.69 A6.7,6.7 0 0 1 326.36,167.33 L326.36,167.33 L325.18,166.50 L326.10,164.81 L327.44,165.34 A6.7,6.7 0 0 1 329.23,163.77 L329.23,163.77 L328.87,162.36 L330.66,161.66 L331.35,162.94 A6.7,6.7 0 0 1 333.73,162.88 L333.73,162.88 L334.35,161.57 L336.18,162.18 L335.88,163.60 A6.7,6.7 0 0 1 337.75,165.09 L337.75,165.09 L339.06,164.49 L340.07,166.13 L338.93,167.03 A6.7,6.7 0 0 1 339.40,169.37 Z M334.45,169.5 A1.75,1.75 0 1 0 330.95,169.5 A1.75,1.75 0 1 0 334.45,169.5 Z" fill="#000" fill-rule="evenodd"/><path d="M320.70,172.83 L321.70,173.11 L321.42,174.46 L320.40,174.33 A3.5,3.5 0 0 1 319.72,175.32 L319.72,175.32 L320.23,176.22 L319.08,176.99 L318.45,176.17 A3.5,3.5 0 0 1 317.27,176.40 L317.27,176.40 L316.99,177.40 L315.64,177.12 L315.77,176.10 A3.5,3.5 0 0 1 314.78,175.42 L314.78,175.42 L313.88,175.93 L313.11,174.78 L313.93,174.15 A3.5,3.5 0 0 1 313.70,172.97 L313.70,172.97 L312.70,172.69 L312.98,171.34 L314.00,171.47 A3.5,3.5 0 0 1 314.68,170.48 L314.68,170.48 L314.17,169.58 L315.32,168.81 L315.95,169.63 A3.5,3.5 0 0 1 317.13,169.40 L317.13,169.40 L317.41,168.40 L318.76,168.68 L318.63,169.70 A3.5,3.5 0 0 1 319.62,170.38 L319.62,170.38 L320.52,169.87 L321.29,171.02 L320.47,171.65 A3.5,3.5 0 0 1 320.70,172.83 Z M318.2,172.9 A1.0,1.0 0 1 0 316.2,172.9 A1.0,1.0 0 1 0 318.2,172.9 Z" fill="#000" fill-rule="evenodd"/><circle cx="321.9" cy="166.2" r="1.9" fill="none" stroke="#000" stroke-width="1.5"/><path d="M54.6,382.2 L54.3,380.2 Q51.6,377 51.6,374.5 A5.9,5.9 0 1 1 63.4,374.5 Q63.4,377 60.7,380.2 L60.4,382.2 Z" fill="none" stroke="#000" stroke-width="1.6" stroke-linejoin="round"/><path d="M54.5,384 L60.5,384 L60.5,385.8 Q60.5,387.6 57.5,387.6 Q54.5,387.6 54.5,385.8 Z" fill="#000"/><line x1="57.5" y1="361.5" x2="57.5" y2="366.3" stroke="#000" stroke-width="1.5"/><line x1="44.7" y1="374.5" x2="49.5" y2="374.5" stroke="#000" stroke-width="1.5"/><line x1="65.5" y1="374.5" x2="70.3" y2="374.5" stroke="#000" stroke-width="1.5"/><line x1="48.3" y1="365.3" x2="51.3" y2="368.3" stroke="#000" stroke-width="1.5"/><line x1="66.7" y1="365.3" x2="63.7" y2="368.3" stroke="#000" stroke-width="1.5"/><line x1="48.3" y1="383.3" x2="51.3" y2="380.3" stroke="#000" stroke-width="1.5"/><line x1="66.7" y1="383.3" x2="63.7" y2="380.3" stroke="#000" stroke-width="1.5"/><circle cx="352.6" cy="363.9" r="2.4" fill="none" stroke="#000" stroke-width="1.8"/><path d="M347,366.3 L358,366.3 Q358.8,366.3 359,367.2 L360.9,377.2 Q361.1,378.4 360,378.4 L345.3,378.4 Q344.2,378.4 344.4,377.2 L346.1,367.2 Q346.3,366.3 347,366.3 Z" fill="#000"/><text x="352.7" y="374.7" font-family="Liberation Sans" font-weight="bold" font-size="5.4" fill="#fff" text-anchor="middle">KG</text><g transform="translate(63.35,562.25) rotate(-24)"><rect x="-4.7" y="-13.2" width="9.4" height="2.4" rx="1.2" fill="#000"/><path d="M-2.3,-10.4 L2.3,-10.4 L2.8,-3.6 L-2.8,-3.6 Z" fill="#000"/><ellipse cx="0" cy="-0.4" rx="6.2" ry="2.7" fill="#000"/><line x1="0" y1="2" x2="0" y2="10.9" stroke="#000" stroke-width="1.1"/></g><g fill="none" stroke="#000" stroke-width="1.15" stroke-linejoin="round" stroke-linecap="round"><path d="M350.9,550.5 L359.5,547.3 L370.7,550.3 L362.4,552.9 Z"/><path d="M350.9,550.5 L347.5,553.5"/><path d="M350.9,550.5 L351.3,563.1 L362.4,565.7 L370.4,562.8 L370.4,556.2"/><path d="M362.4,552.9 L362.4,565.7"/><path d="M362.4,552.9 L365.3,557 L373.3,554.8 L370.7,550.3"/></g></svg>
<div class="t" id="t1" style="left:56.95px;top:164.38px;font-size:15.5px;line-height:15.5px;transform:scaleX(1.0522);">Hang more than <b>60+</b> medals</div>
<div class="t" id="t2a" style="left:350.29px;top:155.90px;font-size:15.0px;line-height:15.0px;transform:scaleX(1.1113);">Intelligent non-slip stop block,</div>
<div class="t" id="t2b" style="left:350.32px;top:173.70px;font-size:15.0px;line-height:15.0px;transform:scaleX(1.0778);">firm and smooth surface, no</div>
<div class="t" id="t2c" style="left:350.29px;top:191.10px;font-size:15.0px;line-height:15.0px;transform:scaleX(1.1113);">sharp edges</div>
<div class="t" id="t3a" style="left:81.94px;top:363.90px;font-size:15.0px;line-height:15.0px;transform:scaleX(1.0606);">3 separate hooks design,</div>
<div class="t" id="t3b" style="left:86.34px;top:381.50px;font-size:15.0px;line-height:15.0px;transform:scaleX(1.0595);">easy to hang up medals</div>
<div class="t" id="t4a" style="left:373.97px;top:362.58px;font-size:15.5px;line-height:15.5px;transform:scaleX(1.0254);">Super loading capacity</div>
<div class="t" id="t4b" style="left:377.90px;top:379.68px;font-size:15.5px;line-height:15.5px;transform:scaleX(1.1003);">up to 5kg/<b>11</b>lb</div>
<div class="t" id="t5a" style="left:91.1px;top:546.20px;font-size:15.0px;line-height:15.0px;transform:scaleX(1.0520);">Assembly hardware,</div>
<div class="t" id="t5b" style="left:91.1px;top:563.90px;font-size:15.0px;line-height:15.0px;transform:scaleX(1.0333);"><b>6</b> anchors, <b>6</b> screws</div>
<div class="t" id="t6" style="left:379.1px;top:548.2px;font-size:15px;line-height:15px;transform:scaleX(1.0714);">Safety gift box package</div>

</body></html>
